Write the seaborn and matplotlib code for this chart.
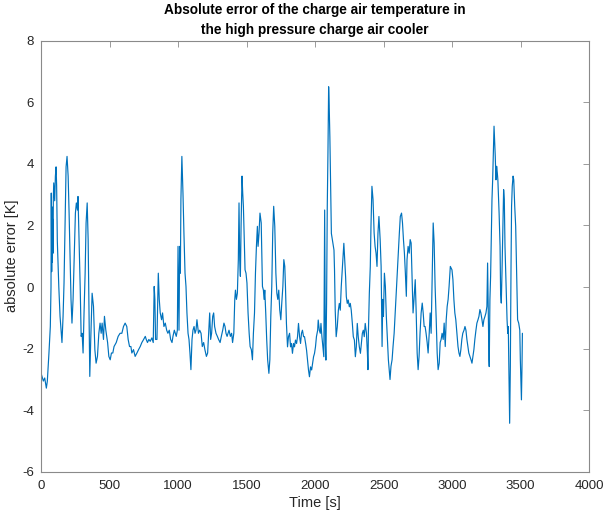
import matplotlib
matplotlib.use("Agg")
import matplotlib.pyplot as plt
import seaborn as sns
import pandas as pd

time_s = [
    0, 7, 17, 27, 39, 46, 58, 68, 73, 75, 78, 81, 83, 86, 88, 90, 93, 100, 105, 110,
    114, 119, 130, 139, 146, 153, 161, 168, 175, 183, 190, 198, 205, 212, 219, 226, 234, 242, 251, 258,
    266, 270, 278, 286, 293, 300, 307, 314, 322, 329, 337, 344, 349, 356, 363, 373, 383, 393, 402, 412,
    422, 431, 439, 446, 456, 463, 473, 486, 495, 505, 514, 524, 533, 549, 563, 577,
    590, 602, 614, 626, 636, 646, 656, 663, 675, 687, 700, 712, 724, 736, 749, 761, 768, 777, 787, 797,
    809, 819, 826, 831, 836, 846, 856, 863, 870, 880, 887, 897, 907, 917, 926, 936, 946, 956, 963, 973,
    980, 987, 995, 1000, 1007, 1012, 1017, 1021, 1028, 1036, 1043, 1051, 1058, 1065, 1073, 1080, 1087, 1094, 1102, 1109,
    1117, 1124, 1131, 1138, 1149, 1158, 1168, 1177,
    1187, 1196, 1207, 1216, 1223, 1231, 1238, 1245, 1253, 1260, 1267, 1277, 1287, 1296, 1307, 1316, 1326, 1335, 1343, 1350,
    1358, 1365, 1372, 1382, 1391, 1398, 1407, 1414, 1419, 1426, 1433, 1440, 1445, 1450, 1455, 1460, 1467, 1472, 1477, 1482,
    1489, 1496, 1503, 1511, 1519, 1526, 1535, 1543, 1550, 1558, 1565, 1572, 1579, 1584, 1591, 1598, 1607, 1611, 1616, 1623,
    1628, 1633, 1640, 1647, 1654, 1663, 1670, 1677, 1684, 1691, 1698, 1706, 1714, 1721, 1728, 1735, 1742, 1750, 1757, 1765,
    1772, 1779,
    1784, 1791, 1799, 1806, 1814, 1821, 1828, 1835, 1843, 1850, 1857, 1865, 1872, 1879, 1887, 1894, 1901, 1908, 1916, 1923,
    1931, 1938, 1945, 1952, 1959, 1967, 1975, 1982, 1989, 1996, 2003, 2010, 2019, 2023, 2031, 2038, 2043, 2050, 2057, 2064,
    2070, 2075, 2079, 2084, 2089, 2094, 2099, 2103, 2108, 2113, 2119, 2123, 2130, 2138, 2142, 2147, 2154, 2162, 2170, 2177,
    2184, 2191, 2198, 2206, 2210, 2215, 2223, 2228, 2235, 2242, 2250, 2257, 2264, 2272, 2279, 2287, 2294, 2301, 2308, 2315,
    2323, 2331, 2338, 2345, 2352, 2359, 2366, 2375, 2382, 2386,
    2389, 2396, 2403, 2408, 2415, 2423, 2431, 2438, 2445, 2452, 2459, 2466, 2475, 2482, 2489, 2494, 2499, 2506, 2513, 2520,
    2528, 2535, 2543, 2547, 2554, 2562, 2569, 2577, 2587, 2596, 2606, 2615, 2622, 2631, 2638, 2645, 2652, 2659, 2666, 2671,
    2679, 2687, 2694, 2701, 2708, 2715, 2722, 2731, 2738, 2745, 2752, 2759, 2766, 2774, 2782, 2789, 2796, 2803, 2810, 2818,
    2825, 2833, 2840, 2847, 2854, 2862, 2869, 2876, 2884, 2891, 2898, 2906, 2913, 2920, 2927, 2935, 2942, 2950, 2957, 2964,
    2971, 2978, 2987,
    2999, 3006, 3013, 3020, 3027, 3035, 3043, 3050, 3057, 3064, 3071, 3078, 3087, 3094, 3101, 3108, 3115, 3122, 3130, 3138,
    3145, 3152, 3159, 3166, 3174, 3181, 3189, 3196, 3203, 3210, 3218, 3225, 3232, 3240, 3247, 3254, 3259, 3264, 3269, 3271,
    3276, 3281, 3286, 3291, 3296, 3301, 3306, 3310, 3315, 3320, 3325, 3330, 3334, 3343, 3350, 3354, 3359, 3364, 3371, 3376,
    3381, 3386, 3394, 3401, 3406, 3410, 3415, 3420, 3425, 3430, 3434, 3439, 3445, 3450, 3457, 3464, 3469, 3474, 3478, 3486,
    3494, 3498, 3503, 3506, 3510, 3513,
]

abs_error_K = [
    -2.79, -2.9, -3.05, -2.95, -3.28, -3.06, -2.14, -1.28, 0.0, 3.05, 0.5, 2.6, 0.8, 2.2, 1.1, 2.9, 3.38, 2.8, 3.6, 3.9,
    3.3, 1.5, 0.0, -0.95, -1.4, -1.8, -0.95, 0.13, 1.97, 3.9, 4.24, 3.6, 2.4, 1.0, -0.4, -1.17, -0.4, 0.89, 2.4, 2.73,
    2.5, 2.94, 1.54, 0.0, -1.6, -1.5, -2.14, -0.84, 0.45, 2.08, 2.73, 1.54, -0.4, -2.9, -1.7, -0.2, -0.63, -2.03, -2.47, -2.25,
    -1.5, -1.17, -1.5, -1.17, -1.7, -0.95, -1.4, -1.8, -2.25, -2.36, -2.14, -2.14, -1.93, -1.8, -1.6, -1.5,
    -1.5, -1.28, -1.17, -1.28, -1.7, -1.93, -1.93, -2.14, -2.03, -2.25, -2.14, -2.03, -1.93, -1.8, -1.7, -1.6, -1.7, -1.8, -1.7, -1.76,
    -1.65, -1.8, 0.02, -0.4, -1.7, -1.7, 0.45, -0.4, -0.84, -1.06, -0.84, -1.28, -1.17, -1.4, -1.5, -1.4, -1.7, -1.8, -1.6, -1.4,
    -1.5, -1.6, -1.4, 1.32, -1.4, 1.32, 0.45, 2.84, 4.24, 3.05, 1.75, 0.45, 0.02, -0.84, -1.5, -1.7, -2.14, -2.68, -1.7, -1.4,
    -1.28, -1.5, -1.4, -1.06, -1.5, -1.4, -1.5, -1.93,
    -1.8, -2.03, -2.25, -2.14, -1.5, -0.84, -1.7, -1.5, -0.95, -0.84, -1.28, -1.5, -1.6, -1.7, -1.8, -1.6, -1.4, -1.17, -1.28, -1.5,
    -1.6, -1.5, -1.4, -1.6, -1.5, -1.8, -1.5, -0.4, -0.1, -0.4, -0.2, 0.89, 2.73, 0.89, 0.35, 1.97, 3.6, 3.05, 2.62, 1.75,
    0.56, 0.45, 0.13, -0.84, -1.5, -1.93, -2.03, -2.36, -1.5, -0.84, 0.45, 1.32, 1.97, 1.32, 1.75, 2.4, 2.08, 1.21, 0.02, -0.1,
    -0.4, -0.1, -0.84, -1.7, -2.36, -2.8, -2.36, -0.95, 0.02, 1.75, 2.62, 1.97, 0.45, -0.2, -0.4, -0.1, -0.73, -1.06, -0.52, 0.02,
    0.89, 0.67,
    0.01, -1.18, -1.94, -1.61, -1.5, -1.94, -1.83, -2.15, -1.83, -1.94, -1.72, -1.83, -1.61, -1.18, -1.61, -1.83, -1.5, -1.4, -1.61, -1.61,
    -1.83, -2.05, -2.37, -2.69, -2.91, -2.59, -2.69, -2.48, -2.26, -2.15, -1.94, -1.61, -1.4, -1.07, -1.4, -1.5, -1.18, -1.61, -1.94, -2.26,
    2.5, -1.83, -2.37, -0.53, 2.6, 4.34, 6.5, 5.9, 4.88, 3.37, 1.74, 1.63, 1.42, 1.2, 0.54, -0.75, -1.61, -1.29, -0.75, -0.53,
    -0.75, 0.01, 0.55, 1.2, 1.42, 0.98, 0.32, -0.31, -0.53, -0.42, -0.64, -0.53, -0.75, -1.18, -1.61, -1.72, -2.26, -1.94, -1.18, -1.61,
    -1.94, -2.15, -1.83, -1.5, -1.4, -1.61, -1.18, -1.5, -2.15, -2.68,
    -1.5, -0.2, 0.67, 1.97, 3.27, 2.84, 1.75, 1.32, 1.1, 0.67, 1.75, 2.29, 1.54, 0.67, -1.93, -0.4, -0.95, 0.45, 0.02, -0.95,
    -1.7, -2.36, -2.8, -3.0, -2.57, -2.36, -1.93, -1.5, -0.63, 0.13, 1.0, 1.75, 2.29, 2.4, 2.08, 1.54, 1.1, 0.45, -0.3, 0.89,
    1.32, 1.1, 1.54, 1.43, 0.24, -0.84, -0.4, 0.24, -0.84, -2.14, -2.68, -2.25, -1.5, -0.84, -0.52, -0.84, -1.28, -1.28, -1.5, -1.8,
    -2.14, -1.5, -0.84, -1.5, 0.24, 2.08, 1.43, 0.02, -1.06, -2.14, -2.68, -2.47, -1.8, -1.7, -1.5, -1.7, -1.17, -1.93, -1.06, -0.63,
    -0.4, 0.02, 0.67,
    0.56, 0.24, -0.4, -0.84, -1.06, -1.5, -1.93, -2.14, -2.25, -2.03, -1.7, -1.5, -1.4, -1.28, -1.4, -1.7, -1.93, -2.14, -2.25, -2.36,
    -2.47, -2.25, -2.03, -1.7, -1.4, -1.17, -1.06, -0.95, -0.73, -0.84, -1.06, -1.28, -1.06, -0.95, -0.84, -0.63, 0.78, -0.73, -2.36, -2.58,
    -0.4, 0.35, 1.54, 2.84, 3.48, 4.35, 5.22, 4.78, 4.24, 3.48, 3.92, 3.7, 3.48, 2.4, 1.32, -0.2, -0.52, 0.45, 1.97, 3.16,
    2.84, 1.32, 0.02, -1.06, -1.5, -1.28, -2.8, -4.42, -2.58, 0.67, 2.62, 3.27, 3.6, 3.48, 2.62, 1.97, 0.89, -0.2, -1.06, -1.17,
    -1.4, -2.36, -3.23, -3.66, -2.58, -1.5,
]

x_ticks = [0, 500, 1000, 1500, 2000, 2500, 3000, 3500, 4000]
y_ticks = [-6, -4, -2, 0, 2, 4, 6, 8]
title_text = "Absolute error of the charge air temperature in\nthe high pressure charge air cooler"
x_label = "Time [s]"
y_label = "absolute error [K]"

df = pd.DataFrame({"t": time_s, "err": abs_error_K})

sns.set_style("white")
plt.rcParams["font.family"] = ["Liberation Sans", "DejaVu Sans"]

fig = plt.figure(figsize=(6.03, 5.13), dpi=100)
ax = fig.add_axes([0.068, 0.080, 0.909, 0.841])

sns.lineplot(data=df, x="t", y="err", ax=ax, color="#0072BD", linewidth=0.85,
             estimator=None, sort=False)

ax.set_xlim(0, 4000)
ax.set_ylim(-6, 8)
ax.set_xticks(x_ticks)
ax.set_yticks(y_ticks)
ax.set_xticklabels([str(v) for v in x_ticks])
ax.set_yticklabels([str(v) for v in y_ticks])

for s in ax.spines.values():
    s.set_visible(True)
    s.set_color("#8a8a8a")
    s.set_linewidth(0.8)

ax.tick_params(direction="in", length=4, width=0.6, color="#8a8a8a",
               top=True, right=True, labelsize=9.5, labelcolor="#262626")
ax.tick_params(axis="x", pad=6)
ax.tick_params(axis="y", pad=5)

ax.set_xlabel(x_label, fontsize=10.5, color="#262626", labelpad=3)
ax.set_ylabel(y_label, fontsize=10.5, color="#262626", labelpad=2)
ax.set_title(title_text, fontsize=9.8, fontweight="bold", color="#000000", pad=5,
             linespacing=1.55)

fig.savefig("out.png", dpi=100)
